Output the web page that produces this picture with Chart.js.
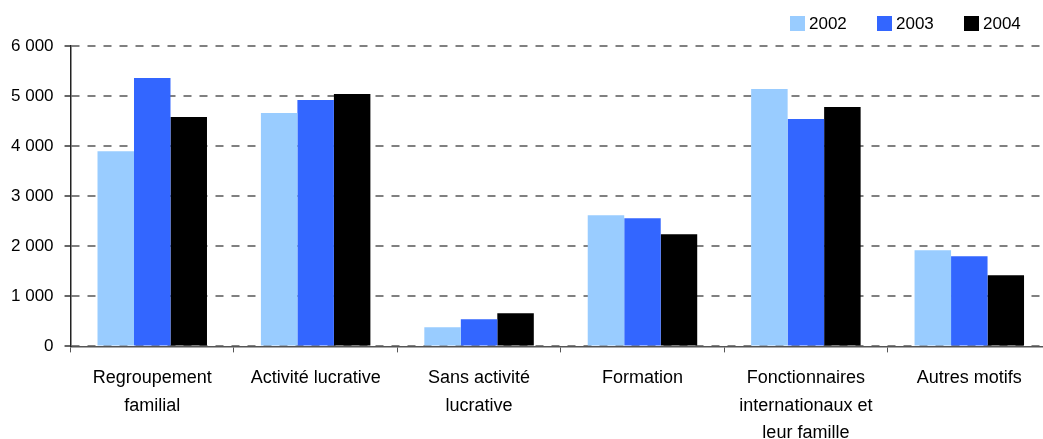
<!DOCTYPE html>
<html>
<head>
<meta charset="utf-8">
<script src="https://cdn.jsdelivr.net/npm/chart.js@4.4.0/dist/chart.umd.min.js"></script>
<style>
  html, body { margin: 0; padding: 0; background: #fff; }
  #wrap { width: 1043px; height: 439px; position: relative; overflow: hidden; }
  #plot { width: 1051px; height: 439px; position: absolute; left: 0; top: 0; }
  #legend {
    position: absolute; left: 790px; top: 16px;
    display: flex; align-items: center;
    font-family: "Liberation Sans", Arial, sans-serif; font-size: 17px; color: #000;
  }
  #legend .item { display: flex; align-items: center; width: 87px; }
  #legend .box { width: 15px; height: 15px; margin-right: 4px; }
  #legend span { line-height: 15px; }
</style>
</head>
<body>
<div id="wrap">
  <div id="plot"><canvas id="motifs-chart"></canvas></div>
  <div id="legend"></div>
</div>
<script>
// categories (multi-line labels as in the source)
const categories = [
  ['Regroupement', 'familial'],
  ['Activité lucrative'],
  ['Sans activité', 'lucrative'],
  ['Formation'],
  ['Fonctionnaires', 'internationaux et', 'leur famille'],
  ['Autres motifs']
];
const years = ['2002', '2003', '2004'];
const values2002 = [3900, 4660, 380, 2620, 5140, 1920];
const values2003 = [5360, 4920, 540, 2560, 4540, 1800];
const values2004 = [4580, 5040, 660, 2240, 4780, 1420];
const yTicks = [0, 1000, 2000, 3000, 4000, 5000, 6000];

const colors = ['#99CCFF', '#3366FF', '#000000'];
const fontFamily = '"Liberation Sans", Arial, sans-serif';

function fmt(v){
  return String(v).replace(/\B(?=(\d{3})+(?!\d))/g, ' ');
}

const data = {
  labels: categories,
  datasets: [values2002, values2003, values2004].map((vals, i) => ({
    label: years[i],
    data: vals,
    backgroundColor: colors[i],
    borderWidth: 0,
    barPercentage: 1.0,
    categoryPercentage: 0.67
  }))
};

const config = {
  type: 'bar',
  data,
  options: {
    responsive: true,
    maintainAspectRatio: false,
    animation: false,
    layout: {
      padding: { top: 46, right: 0, bottom: -20, left: 0 }
    },
    plugins: {
      tooltip: { enabled: false },
      legend: { display: false }
    },
    scales: {
      x: {
        grid: {
          display: true,
          drawOnChartArea: false,
          drawTicks: true,
          tickLength: 6,
          tickColor: '#555',
          offset: true
        },
        border: { display: true, color: '#555', width: 1.5 },
        ticks: {
          color: '#000',
          padding: 12,
          maxRotation: 0,
          autoSkip: false,
          font: { family: fontFamily, size: 18, lineHeight: 1.53 }
        }
      },
      y: {
        min: 0,
        max: 6000,
        afterBuildTicks: (axis) => { axis.ticks = yTicks.map(v => ({ value: v })); },
        grid: {
          color: '#808080',
          lineWidth: 2,
          drawTicks: true,
          tickLength: 6,
          tickColor: '#333',
          tickWidth: 1.5,
          tickBorderDash: []
        },
        border: { display: true, color: '#222', width: 1.5, dash: [8, 8] },
        ticks: {
          color: '#000',
          padding: 11,
          font: { family: fontFamily, size: 17 },
          callback: (v) => fmt(v)
        }
      }
    }
  }
};

const ctx = document.getElementById('motifs-chart');
const myChart = new Chart(ctx, config);

// legend built from the datasets
const legend = document.getElementById('legend');
myChart.data.datasets.forEach(ds => {
  const item = document.createElement('div');
  item.className = 'item';
  const box = document.createElement('div');
  box.className = 'box';
  box.style.background = ds.backgroundColor;
  const txt = document.createElement('span');
  txt.textContent = ds.label;
  item.appendChild(box);
  item.appendChild(txt);
  legend.appendChild(item);
});
</script>
</body>
</html>
